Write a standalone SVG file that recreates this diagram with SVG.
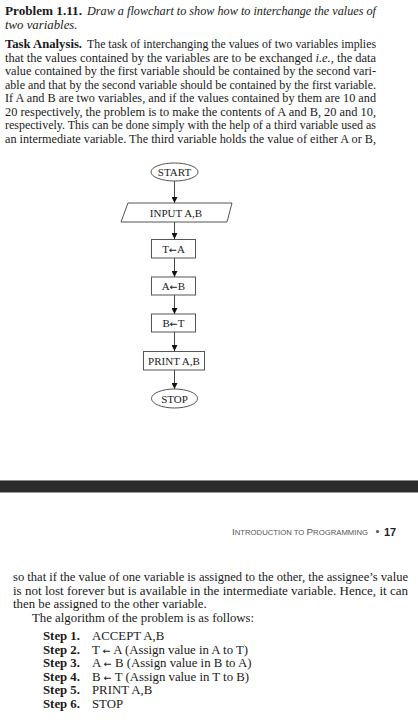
<svg xmlns="http://www.w3.org/2000/svg" width="418" height="720" viewBox="0 0 418 720">
<style>
.body{font-family:"Liberation Serif","Times New Roman",serif;font-size:12.8px;fill:#1a1a1a}
.b{font-weight:bold}
.i{font-style:italic}
.ar{font-family:"DejaVu Sans",sans-serif;font-size:9.5px}
.lbl{font-family:"Liberation Serif","Times New Roman",serif;font-size:11px;fill:#222;text-anchor:middle}
.shape{fill:#fff;stroke:#555;stroke-width:1}
.conn{stroke:#444;stroke-width:1;fill:none}
.hdr{font-family:"Liberation Sans",Arial,sans-serif;fill:#555}
</style>
<defs>
<marker id="ah" markerUnits="userSpaceOnUse" markerWidth="6" markerHeight="6" viewBox="0 0 6 6" refX="6" refY="3" orient="auto">
<path d="M0,0 L6,3 L0,6 Z" fill="#111"/>
</marker>
</defs>
<rect width="418" height="720" fill="#fff"/>

<!-- top text -->
<g class="body">
<text y="15" x="5" class="b" textLength="77" lengthAdjust="spacingAndGlyphs">Problem 1.11.</text>
<text y="15" x="87" class="i" textLength="289" lengthAdjust="spacingAndGlyphs">Draw a flowchart to show how to interchange the values of</text>
<text y="28.5" x="5" class="i">two variables.</text>
<text y="48" x="5" class="b" textLength="77" lengthAdjust="spacingAndGlyphs">Task Analysis.</text>
<text y="48" x="87" textLength="289" lengthAdjust="spacingAndGlyphs">The task of interchanging the values of two variables implies</text>
<text y="61.5" x="5" textLength="371" lengthAdjust="spacingAndGlyphs">that the values contained by the variables are to be exchanged <tspan class="i">i.e.</tspan>, the data</text>
<text y="75" x="5" textLength="371" lengthAdjust="spacingAndGlyphs">value contained by the first variable should be contained by the second vari-</text>
<text y="88.5" x="5" textLength="371" lengthAdjust="spacingAndGlyphs">able and that by the second variable should be contained by the first variable.</text>
<text y="102" x="5" textLength="371" lengthAdjust="spacingAndGlyphs">If A and B are two variables, and if the values contained by them are 10 and</text>
<text y="115.5" x="5" textLength="371" lengthAdjust="spacingAndGlyphs">20 respectively, the problem is to make the contents of A and B, 20 and 10,</text>
<text y="129" x="5" textLength="371" lengthAdjust="spacingAndGlyphs">respectively. This can be done simply with the help of a third variable used as</text>
<text y="142.5" x="5" textLength="371" lengthAdjust="spacingAndGlyphs">an intermediate variable. The third variable holds the value of either A or B,</text>
</g>

<!-- connectors -->
<g id="connectors" class="conn">
<line x1="174.5" y1="181" x2="174.5" y2="203" marker-end="url(#ah)"/>
<line x1="174.5" y1="222" x2="174.5" y2="239" marker-end="url(#ah)"/>
<line x1="174.5" y1="258" x2="174.5" y2="277" marker-end="url(#ah)"/>
<line x1="174.5" y1="295" x2="174.5" y2="314" marker-end="url(#ah)"/>
<line x1="174.5" y1="332" x2="174.5" y2="351" marker-end="url(#ah)"/>
<line x1="174.5" y1="370" x2="174.5" y2="389" marker-end="url(#ah)"/>
</g>

<!-- nodes -->
<g id="start">
<ellipse class="shape" cx="174.5" cy="172" rx="23.5" ry="9"/>
<text class="lbl" x="174.5" y="176">START</text>
</g>
<g id="input">
<polygon class="shape" points="128,203 232,203 227,222 121,222"/>
<text class="lbl" x="176" y="216.5">INPUT A,B</text>
</g>
<g id="t-a">
<rect class="shape" x="151.5" y="239.5" width="44" height="18.5"/>
<text class="lbl" x="173.5" y="253">T<tspan class="ar">←</tspan>A</text>
</g>
<g id="a-b">
<rect class="shape" x="151.5" y="277" width="44" height="18"/>
<text class="lbl" x="173.5" y="290">A<tspan class="ar">←</tspan>B</text>
</g>
<g id="b-t">
<rect class="shape" x="151.5" y="314" width="44" height="18"/>
<text class="lbl" x="173.5" y="327">B<tspan class="ar">←</tspan>T</text>
</g>
<g id="print">
<rect class="shape" x="143.5" y="351.5" width="61" height="18.5"/>
<text class="lbl" x="174" y="364.5">PRINT A,B</text>
</g>
<g id="stop">
<ellipse class="shape" cx="174.5" cy="398.5" rx="23" ry="9.5"/>
<text class="lbl" x="174.5" y="402.5">STOP</text>
</g>

<!-- page break bar -->
<rect x="0" y="480" width="418" height="13" fill="#2b2b2b"/>
<line x1="0" y1="480.5" x2="418" y2="480.5" stroke="#8a8a8a" stroke-width="1"/>
<line x1="0" y1="492.5" x2="418" y2="492.5" stroke="#9a9a9a" stroke-width="1"/>

<!-- header -->
<text class="hdr" x="232" y="535" textLength="136" lengthAdjust="spacingAndGlyphs"><tspan font-size="9">I</tspan><tspan font-size="7">NTRODUCTION TO </tspan><tspan font-size="9">P</tspan><tspan font-size="7">ROGRAMMING</tspan></text>
<circle cx="377.5" cy="531.5" r="1.6" fill="#555"/>
<text x="384" y="535.5" font-family="Liberation Sans,Arial,sans-serif" font-size="11" font-weight="bold" fill="#222">17</text>

<!-- bottom text -->
<g class="body">
<text y="581" x="13" textLength="395" lengthAdjust="spacingAndGlyphs">so that if the value of one variable is assigned to the other, the assignee’s value</text>
<text y="594.5" x="13" textLength="395" lengthAdjust="spacingAndGlyphs">is not lost forever but is available in the intermediate variable. Hence, it can</text>
<text y="608" x="13">then be assigned to the other variable.</text>
<text y="621.5" x="32">The algorithm of the problem is as follows:</text>
<text y="640" x="43" class="b">Step 1.</text><text y="640" x="92">ACCEPT A,B</text>
<text y="653.5" x="43" class="b">Step 2.</text><text y="653.5" x="92">T <tspan class="ar">←</tspan> A (Assign value in A to T)</text>
<text y="667" x="43" class="b">Step 3.</text><text y="667" x="92">A <tspan class="ar">←</tspan> B (Assign value in B to A)</text>
<text y="680.5" x="43" class="b">Step 4.</text><text y="680.5" x="92">B <tspan class="ar">←</tspan> T (Assign value in T to B)</text>
<text y="694" x="43" class="b">Step 5.</text><text y="694" x="92">PRINT A,B</text>
<text y="707.5" x="43" class="b">Step 6.</text><text y="707.5" x="92">STOP</text>
</g>
</svg>
